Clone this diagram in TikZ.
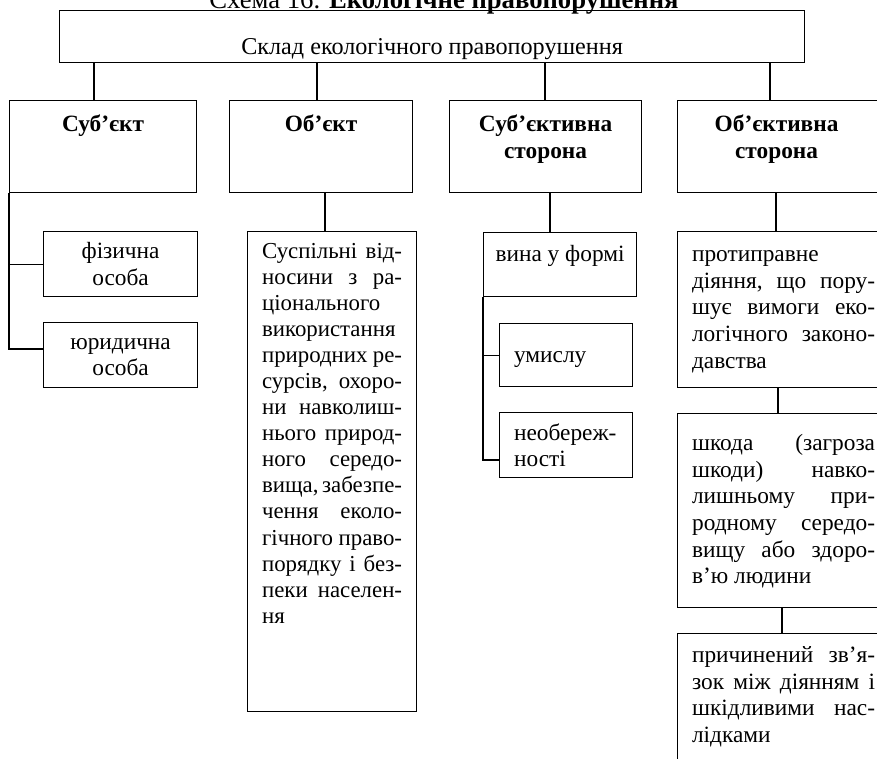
\documentclass[tikz,border=0pt]{standalone}
\usepackage{fontspec}
\setmainfont{Liberation Serif}[WordSpace={1,1.5,2.2}]
\usetikzlibrary{positioning}
\newlength\px
\setlength\px{0.6pt}
\newcommand\celltext[5]{\parbox[t][#1\px][t]{#2\px}{#4\hyphenpenalty=10000 \exhyphenpenalty=10000 \tolerance=10000 \vspace*{#3\px}\strut #5}}

\begin{document}
\begin{tikzpicture}[
    x=0.6pt, y=-0.6pt,
    line width=0.7pt,
    every node/.style={font=\fontsize{14}{16}\selectfont},
    cell/.style={draw, anchor=north west, inner xsep=0pt, inner ysep=0pt},
    textcell/.style={cell, inner xsep=14.5\px}
]
\useasboundingbox (0,0) rectangle (877,758);
\node[anchor=base, font=\fontsize{16}{18}\selectfont] (title) at (444,8) {Схема 16. \textbf{Екологічне правопорушення}};
\node[cell] (top) at (59,10) {\celltext{52}{745}{25.5}{\centering\fontsize{14.5}{16}\selectfont}{Склад екологічного правопорушення}};

\node[cell] (subj) at (9,100) {\celltext{92}{187}{12.3}{\centering}{\textbf{Суб’єкт}}};
\node[cell] (obj) at (229,100) {\celltext{92}{183}{12.3}{\centering}{\textbf{Об’єкт}}};
\node[cell] (subjside) at (449,100) {\celltext{92}{192}{12.3}{\centering}{\textbf{Суб’єктивна\\сторона}}};
\node[cell] (objside) at (677,100) {\celltext{92}{212}{12.3}{\centering\rightskip=14\px plus 1fil\relax}{\textbf{Об’єктивна\\сторона}}};

\node[cell] (fiz) at (43,231) {\celltext{65}{154}{8.3}{\centering}{фізична\\особа}};
\node[cell] (yur) at (43,322) {\celltext{65}{154}{7.8}{\centering}{юридична\\особа}};

\node[textcell] (desc) at (247,231) {\celltext{480}{140}{8.3}{\fontsize{13.7}{15.65}\selectfont}{Суспільні~від-\linebreak носини~з~ра-\linebreak ціонального\linebreak використання\linebreak природних~ре-\linebreak сурсів,~охоро-\linebreak ни~навколиш-\linebreak нього~природ-\linebreak ного~середо-\linebreak вища,~забезпе-\linebreak чення~еколо-\linebreak гічного~право-\linebreak порядку~і~без-\linebreak пеки~населен-\linebreak ня}};

\node[cell] (vina) at (483,232) {\celltext{64}{153}{10.3}{\centering}{вина у формі}};
\node[textcell] (umys) at (499,323) {\celltext{63}{104}{20.3}{\raggedright}{умислу}};
\node[textcell] (neob) at (499,412) {\celltext{65}{104}{8.8}{\raggedright}{необереж-\\ності}};

\node[textcell] (prot) at (677,231) {\celltext{156}{183}{11.3}{}{протиправне\linebreak діяння,~що~пору-\linebreak шує~вимоги~еко-\linebreak логічного~законо-\linebreak давства}};
\node[textcell] (shk) at (677,413) {\celltext{194}{183}{18.3}{}{шкода~(загроза\linebreak шкоди)~навко-\linebreak лишньому~при-\linebreak родному~середо-\linebreak вищу~або~здоро-\linebreak в’ю людини}};
\node[textcell] (prych) at (677,633) {\celltext{140}{183}{10.3}{}{причинений~зв’я-\linebreak зок~між~діянням~і\linebreak шкідливими~нас-\linebreak лідками}};

\foreach \cx/\child in {94/subj, 317/obj, 545/subjside, 770/objside}
    \draw (top.south -| \cx,0) -- (\child.north -| \cx,0);

\draw (subj.south west) |- (fiz.west);
\draw (subj.south west) |- (yur.west |- 0,349);
\draw (obj.south -| 325,0) -- (desc.north -| 325,0);
\draw (subjside.south -| 550,0) -- (vina.north -| 550,0);
\draw (vina.south west) |- (umys.west);
\draw (vina.south west) |- (neob.west |- 0,460);
\draw (objside.south -| 776,0) -- (prot.north -| 776,0);
\draw (prot.south -| 778,0) -- (shk.north -| 778,0);
\draw (shk.south -| 782,0) -- (prych.north -| 782,0);
\end{tikzpicture}
\end{document}
